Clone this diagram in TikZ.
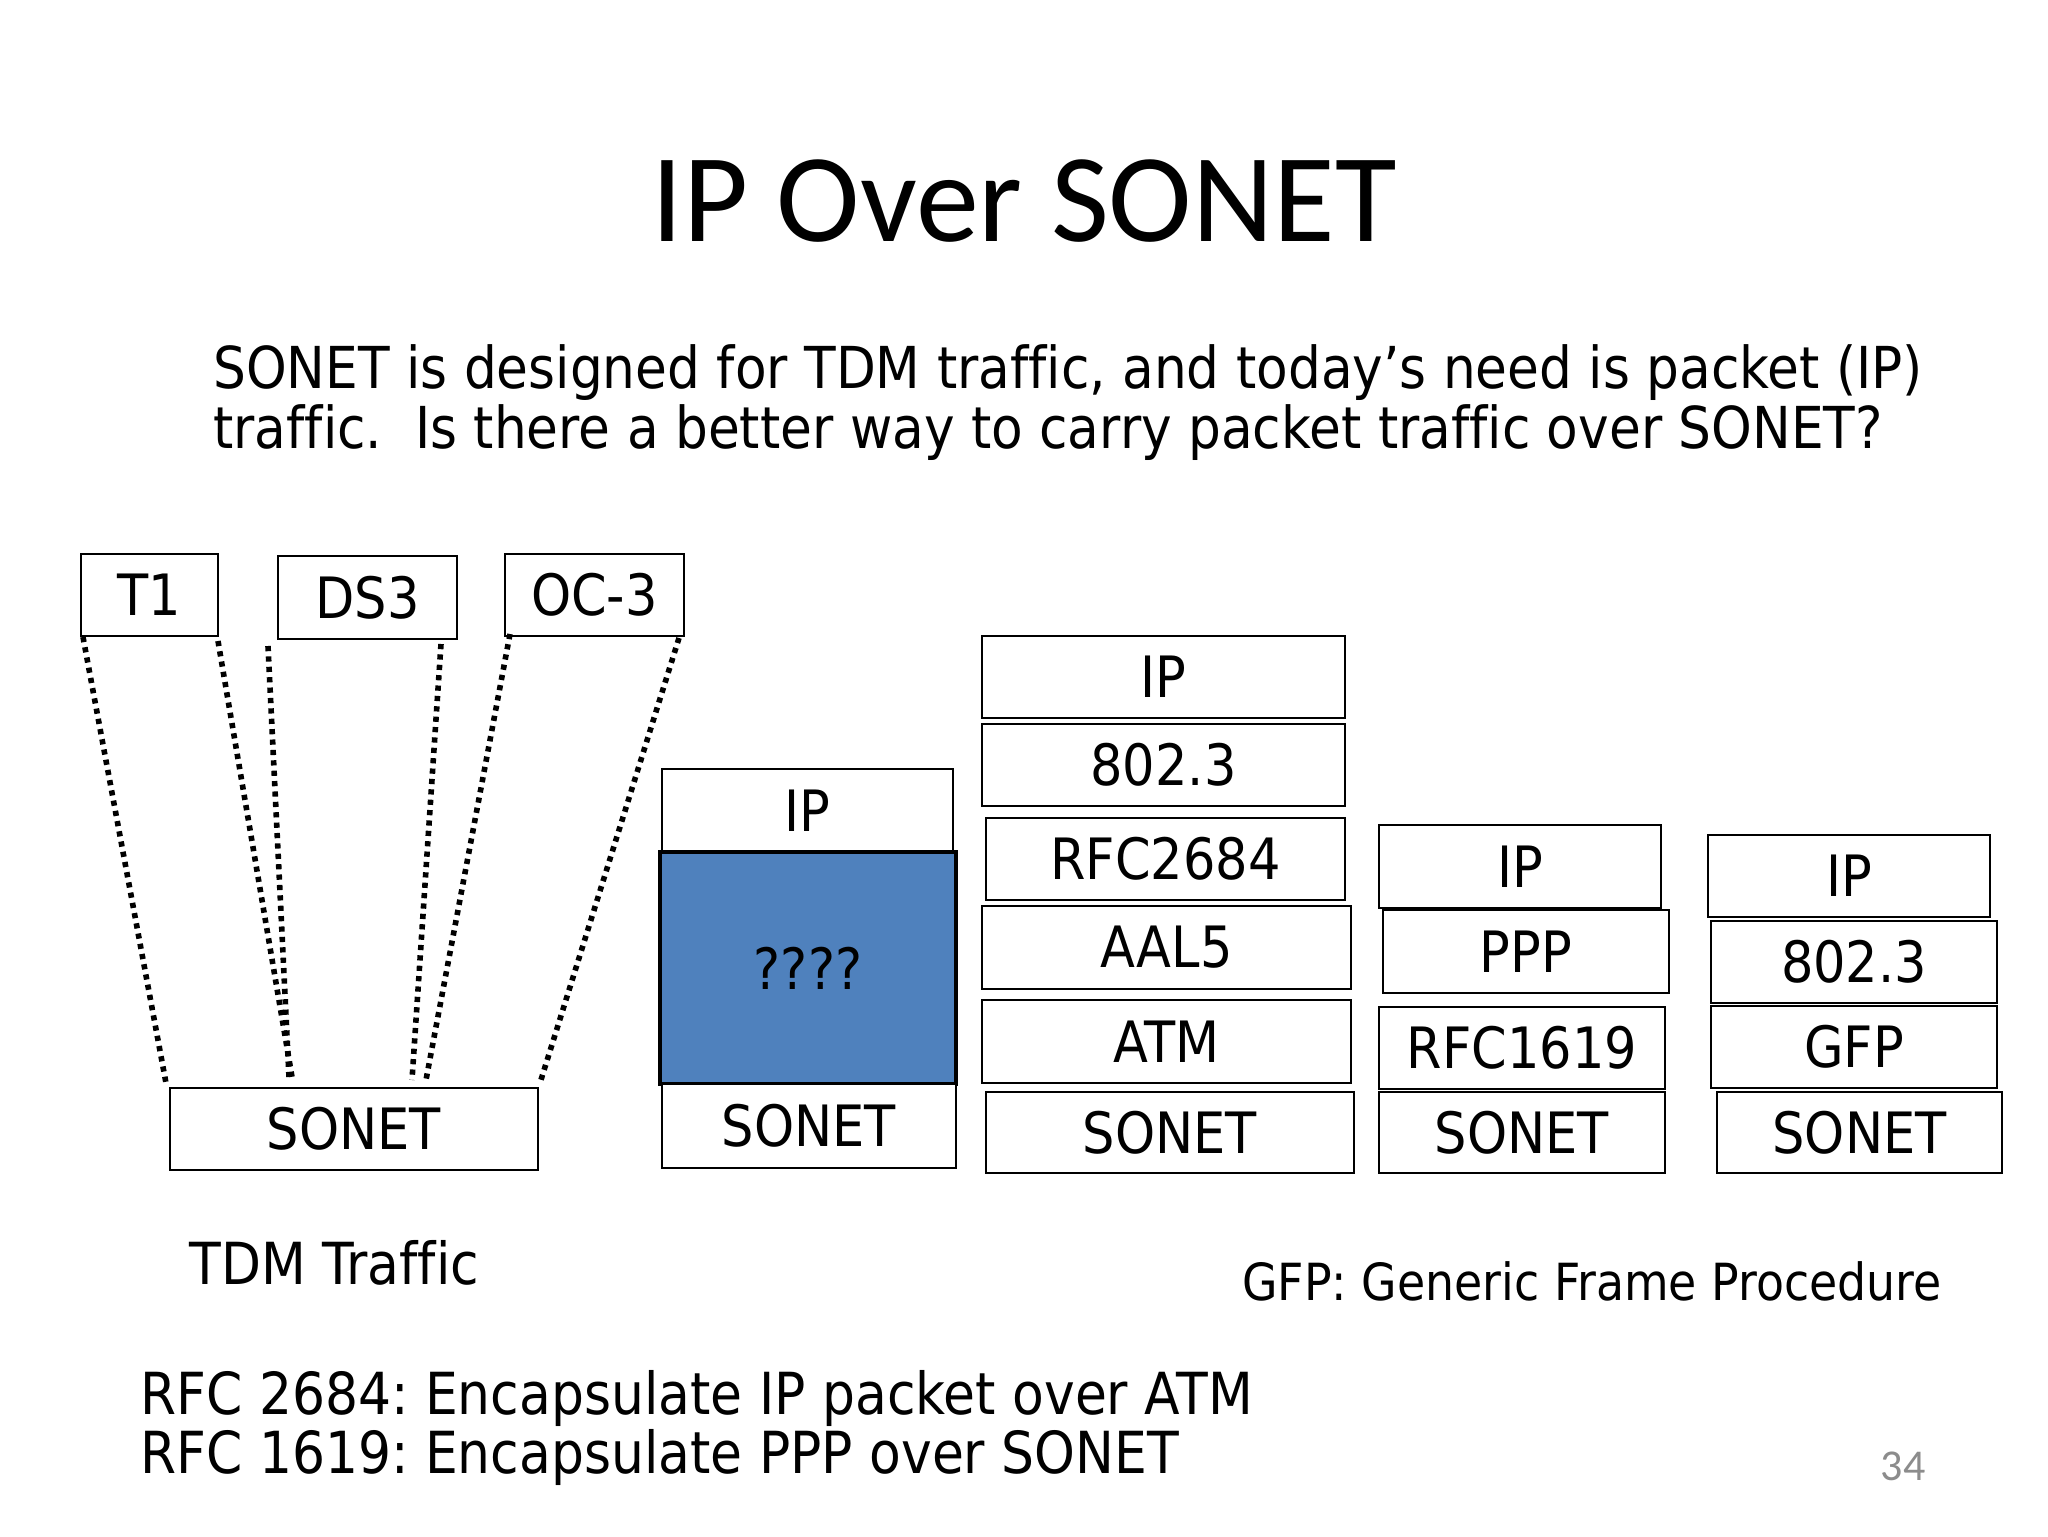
\documentclass[tikz,border=0pt]{standalone}
\usepackage{fontspec}
\setmainfont{DejaVu Sans}[FakeStretch=0.895,Ligatures=NoCommon]
\newfontfamily\titlefont{Carlito}
\usetikzlibrary{calc}
\definecolor{qblue}{HTML}{4F81BD}
\definecolor{pgnum}{HTML}{8C8C8C}
\frenchspacing
\begin{document}
\begin{tikzpicture}[x=0.5pt,y=-0.5pt,
  layer/.style={draw=black,line width=1pt,fill=white,inner sep=0pt,
    font=\fontsize{28.5}{34}\selectfont},
  bw/.style={minimum width=#1*0.5pt},
  bh/.style={minimum height=#1*0.5pt},
  dotline/.style={line width=2.8pt,dash pattern=on 2.6pt off 2.6pt},
  txt/.style={inner sep=0pt,anchor=base west}]
\fill[white] (0,0) rectangle (2048,1536);
\useasboundingbox (0,0) rectangle (2048,1536);
% title and text
\node[inner sep=0pt,anchor=base] (title) at (1024,241)
  {\titlefont\fontsize{63}{70}\selectfont IP Over SONET};
\node[txt] (sub1) at (213,388) {\fontsize{28.9}{34}\selectfont SONET is designed for TDM traffic, and today’s need is packet (IP)};
\node[txt] (sub2) at (213,448) {\fontsize{28.9}{34}\selectfont traffic.\ \ Is there a better way to carry packet traffic over SONET?};
% TDM group
\node[layer,bw=137,bh=82] (t1) at (149.5,595) {T1};
\node[layer,bw=179,bh=83] (ds3) at (367.5,597.5) {DS3};
\node[layer,bw=179,bh=82] (oc3) at (594.5,595) {OC-3};
\node[layer,bw=368,bh=82] (sonA) at (354,1129) {SONET};
\draw[dotline] ($(t1.south west)+(3,0)$) -- ($(sonA.north west)+(-3,-4)$);
\draw[dotline] ($(t1.south east)+(-1,4)$) -- ($(sonA.north west)+(123,-10)$);
\draw[dotline] ($(ds3.south west)+(-9,6)$) -- ($(sonA.north west)+(120,-10)$);
\draw[dotline] ($(ds3.south east)+(-17,4)$) -- ($(sonA.north west)+(243,-7)$);
\draw[dotline] ($(oc3.south west)+(6,-3)$) -- ($(sonA.north west)+(257,-7)$);
\draw[dotline] ($(oc3.south east)+(-6,1)$) -- ($(sonA.north east)+(1,-4)$);
\node[txt] (tdm) at (189,1284) {\fontsize{29}{34}\selectfont TDM Traffic};
% question column
\node[layer,bw=291,bh=83] (ipB) at (807.5,810.5) {IP};
\node[layer,fill=qblue,line width=1.6pt,bw=296,bh=232] (qq) at (808,968) {????};
\node[layer,bw=294,bh=84] (sonB) at (809,1126) {SONET};
% ATM column
\node[layer,bw=363,bh=82] (ipC) at (1163.5,677) {IP};
\node[layer,bw=363,bh=82] (ethC) at (1163.5,765) {802.3};
\node[layer,bw=359,bh=82] (rfcC) at (1165.5,859) {RFC2684};
\node[layer,bw=369,bh=83] (aalC) at (1166.5,947.5) {AAL5};
\node[layer,bw=369,bh=83] (atmC) at (1166.5,1041.5) {ATM};
\node[layer,bw=368,bh=81] (sonC) at (1170,1132.5) {SONET};
% PPP column
\node[layer,bw=282,bh=83] (ipD) at (1520,866.5) {IP};
\node[layer,bw=286,bh=83] (pppD) at (1526,951.5) {PPP};
\node[layer,bw=286,bh=82] (rfcD) at (1522,1048) {RFC1619};
\node[layer,bw=286,bh=81] (sonD) at (1522,1132.5) {SONET};
% GFP column
\node[layer,bw=282,bh=82] (ipE) at (1849,876) {IP};
\node[layer,bw=286,bh=82] (ethE) at (1854,962) {802.3};
\node[layer,bw=286,bh=82] (gfpE) at (1854,1047) {GFP};
\node[layer,bw=285,bh=81] (sonE) at (1859.5,1132.5) {SONET};
% notes
\node[txt] (gfpnote) at (1242,1300) {\fontsize{25.6}{30}\selectfont GFP: Generic Frame Procedure};
\node[txt] (rfc1) at (140,1414) {\fontsize{29}{35}\selectfont RFC 2684: Encapsulate IP packet over ATM};
\node[txt] (rfc2) at (140,1473) {\fontsize{29}{35}\selectfont RFC 1619: Encapsulate PPP over SONET};
\node[inner sep=0pt,anchor=base,text=pgnum] (pg) at (1903,1480) {\titlefont\fontsize{22}{26}\selectfont 34};
\end{tikzpicture}
\end{document}
